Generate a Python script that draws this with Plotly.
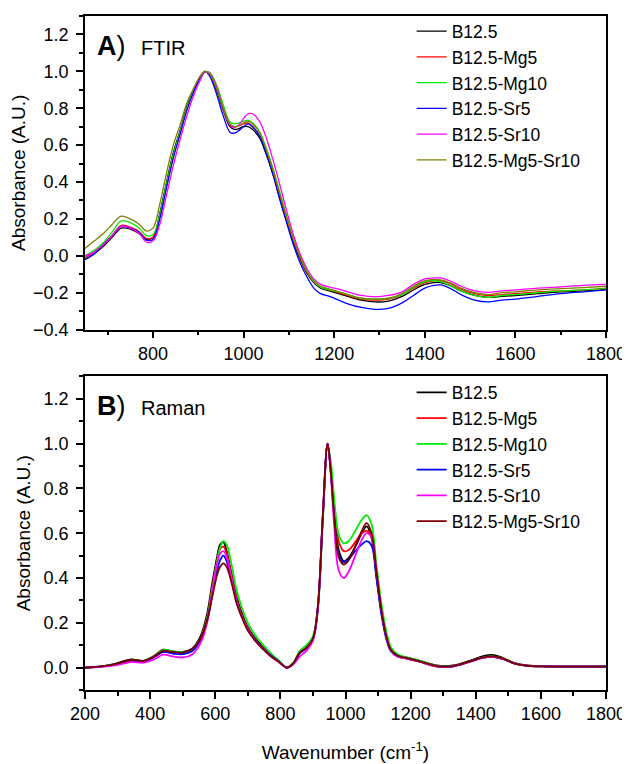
import plotly.graph_objects as go
from plotly.subplots import make_subplots

# ---- FTIR (panel A) ----
ftir_x = [650, 670, 690, 710, 730, 750, 770, 785, 800, 815,
          830, 845, 860, 875, 890, 905, 915, 925, 940, 955,
          970, 980, 990, 1000, 1010, 1020, 1035, 1050, 1065, 1080,
          1095, 1110, 1125, 1140, 1155, 1170, 1190, 1210, 1230, 1260,
          1290, 1320, 1350, 1375, 1400, 1420, 1435, 1455, 1480, 1510,
          1540, 1570, 1600, 1650, 1700, 1750, 1800]

ftir_b125 = [-0.02, 0.01, 0.05, 0.10, 0.15, 0.145, 0.12, 0.09, 0.10, 0.23,
             0.40, 0.56, 0.68, 0.81, 0.90, 0.975, 1.00, 0.98, 0.90, 0.79,
             0.70, 0.685, 0.69, 0.70, 0.70, 0.685, 0.64, 0.55, 0.44, 0.31,
             0.19, 0.075, -0.02, -0.095, -0.145, -0.175, -0.19, -0.205, -0.22, -0.24,
             -0.25, -0.245, -0.22, -0.185, -0.155, -0.145, -0.145, -0.16, -0.19, -0.215,
             -0.225, -0.22, -0.215, -0.205, -0.195, -0.19, -0.182]
ftir_mg5 = [-0.01, 0.02, 0.06, 0.11, 0.165, 0.155, 0.13, 0.095, 0.10, 0.21,
            0.38, 0.54, 0.67, 0.80, 0.895, 0.97, 1.00, 0.985, 0.91, 0.80,
            0.71, 0.70, 0.705, 0.715, 0.72, 0.70, 0.655, 0.565, 0.455, 0.325,
            0.20, 0.085, -0.01, -0.09, -0.14, -0.17, -0.185, -0.20, -0.215, -0.235,
            -0.24, -0.235, -0.21, -0.175, -0.145, -0.135, -0.135, -0.15, -0.18, -0.205,
            -0.215, -0.21, -0.205, -0.195, -0.19, -0.185, -0.175]
ftir_mg10 = [0.0, 0.03, 0.07, 0.13, 0.19, 0.18, 0.15, 0.11, 0.115, 0.22,
             0.39, 0.55, 0.67, 0.80, 0.895, 0.97, 0.995, 0.995, 0.93, 0.82,
             0.725, 0.715, 0.72, 0.73, 0.735, 0.72, 0.675, 0.585, 0.475, 0.345,
             0.215, 0.095, -0.005, -0.085, -0.14, -0.17, -0.185, -0.195, -0.21, -0.23,
             -0.235, -0.23, -0.21, -0.17, -0.14, -0.135, -0.14, -0.16, -0.19, -0.215,
             -0.225, -0.215, -0.21, -0.2, -0.19, -0.185, -0.178]
ftir_sr5 = [-0.02, 0.01, 0.06, 0.11, 0.16, 0.15, 0.125, 0.085, 0.09, 0.20,
            0.37, 0.53, 0.66, 0.79, 0.89, 0.97, 1.00, 0.975, 0.88, 0.76,
            0.67, 0.665, 0.68, 0.70, 0.715, 0.70, 0.65, 0.555, 0.44, 0.305,
            0.18, 0.06, -0.04, -0.115, -0.175, -0.205, -0.22, -0.24, -0.26, -0.28,
            -0.29, -0.285, -0.255, -0.215, -0.175, -0.16, -0.158, -0.175, -0.21, -0.24,
            -0.25, -0.24, -0.235, -0.22, -0.205, -0.195, -0.185]
ftir_sr10 = [0.0, 0.02, 0.06, 0.11, 0.16, 0.15, 0.12, 0.075, 0.08, 0.17,
             0.33, 0.49, 0.63, 0.76, 0.87, 0.955, 0.995, 0.99, 0.92, 0.80,
             0.71, 0.695, 0.71, 0.745, 0.77, 0.77, 0.73, 0.64, 0.52, 0.385,
             0.245, 0.115, 0.01, -0.07, -0.125, -0.155, -0.17, -0.18, -0.195, -0.215,
             -0.222, -0.215, -0.195, -0.155, -0.125, -0.12, -0.12, -0.135, -0.165, -0.19,
             -0.198, -0.19, -0.185, -0.175, -0.168, -0.16, -0.155]
ftir_mg5sr10 = [0.04, 0.08, 0.12, 0.17, 0.215, 0.20, 0.17, 0.135, 0.15, 0.28,
                0.45, 0.60, 0.71, 0.83, 0.91, 0.975, 1.00, 0.985, 0.91, 0.80,
                0.715, 0.70, 0.705, 0.72, 0.73, 0.715, 0.67, 0.575, 0.465, 0.335,
                0.21, 0.09, -0.005, -0.085, -0.135, -0.165, -0.18, -0.195, -0.21, -0.23,
                -0.235, -0.23, -0.205, -0.165, -0.135, -0.128, -0.13, -0.145, -0.175, -0.2,
                -0.21, -0.2, -0.195, -0.185, -0.178, -0.172, -0.165]

# ---- Raman (panel B) ----
raman_x = [200, 250, 300, 340, 380, 410, 440, 470, 500, 530,
           555, 575, 590, 605, 615, 625, 635, 650, 665, 680,
           700, 720, 745, 770, 795, 820, 840, 860, 880, 900,
           915, 930, 945, 955, 965, 980, 995, 1010, 1030, 1050,
           1065, 1080, 1095, 1110, 1125, 1140, 1160, 1190, 1230, 1280,
           1330, 1380, 1420, 1450, 1480, 1520, 1560, 1620, 1700, 1800]

raman_b125 = [0.0, 0.005, 0.02, 0.037, 0.03, 0.05, 0.08, 0.072, 0.07, 0.085,
              0.14, 0.24, 0.37, 0.49, 0.55, 0.56, 0.52, 0.42, 0.32, 0.25,
              0.18, 0.135, 0.095, 0.06, 0.03, 0.0, 0.02, 0.07, 0.09, 0.13,
              0.27, 0.67, 1.00, 0.88, 0.70, 0.52, 0.475, 0.49, 0.54, 0.60,
              0.63, 0.58, 0.41, 0.25, 0.14, 0.08, 0.056, 0.045, 0.03, 0.01,
              0.01, 0.03, 0.05, 0.057, 0.045, 0.02, 0.01, 0.006, 0.005, 0.005]
raman_mg5 = [0.0, 0.004, 0.015, 0.03, 0.028, 0.045, 0.07, 0.065, 0.062, 0.078,
             0.13, 0.225, 0.35, 0.47, 0.53, 0.54, 0.51, 0.41, 0.31, 0.24,
             0.175, 0.13, 0.09, 0.055, 0.028, 0.0, 0.02, 0.068, 0.088, 0.13,
             0.27, 0.66, 0.995, 0.89, 0.72, 0.56, 0.52, 0.525, 0.56, 0.60,
             0.61, 0.585, 0.42, 0.255, 0.14, 0.075, 0.05, 0.04, 0.025, 0.006,
             0.006, 0.025, 0.043, 0.048, 0.04, 0.018, 0.008, 0.005, 0.004, 0.004]
raman_mg10 = [0.0, 0.004, 0.016, 0.032, 0.03, 0.05, 0.078, 0.072, 0.07, 0.082,
              0.13, 0.22, 0.34, 0.47, 0.535, 0.565, 0.55, 0.46, 0.35, 0.275,
              0.20, 0.15, 0.105, 0.065, 0.032, 0.0, 0.022, 0.075, 0.10, 0.14,
              0.26, 0.64, 0.99, 0.92, 0.76, 0.59, 0.555, 0.565, 0.61, 0.66,
              0.68, 0.64, 0.46, 0.29, 0.165, 0.09, 0.06, 0.045, 0.03, 0.008,
              0.008, 0.027, 0.045, 0.05, 0.042, 0.018, 0.008, 0.005, 0.004, 0.004]
raman_sr5 = [0.0, 0.004, 0.015, 0.03, 0.027, 0.045, 0.07, 0.063, 0.06, 0.075,
             0.125, 0.21, 0.32, 0.43, 0.48, 0.50, 0.475, 0.39, 0.30, 0.235,
             0.17, 0.128, 0.088, 0.055, 0.027, 0.0, 0.018, 0.065, 0.085, 0.125,
             0.265, 0.66, 1.00, 0.87, 0.68, 0.50, 0.47, 0.485, 0.52, 0.55,
             0.565, 0.545, 0.40, 0.24, 0.13, 0.072, 0.05, 0.04, 0.025, 0.006,
             0.006, 0.025, 0.043, 0.048, 0.04, 0.018, 0.008, 0.005, 0.004, 0.004]
raman_sr10 = [0.0, 0.003, 0.012, 0.025, 0.022, 0.035, 0.058, 0.05, 0.045, 0.06,
              0.11, 0.2, 0.33, 0.46, 0.51, 0.52, 0.495, 0.40, 0.30, 0.235,
              0.17, 0.125, 0.085, 0.05, 0.025, 0.0, 0.015, 0.05, 0.075, 0.12,
              0.26, 0.66, 1.00, 0.86, 0.64, 0.43, 0.40, 0.43, 0.50, 0.57,
              0.60, 0.58, 0.43, 0.26, 0.14, 0.075, 0.05, 0.04, 0.025, 0.006,
              0.006, 0.025, 0.043, 0.048, 0.04, 0.018, 0.008, 0.005, 0.004, 0.004]
raman_mg5sr10 = [0.0, 0.005, 0.018, 0.034, 0.03, 0.048, 0.075, 0.07, 0.068, 0.085,
                 0.13, 0.21, 0.31, 0.41, 0.45, 0.465, 0.45, 0.38, 0.29, 0.23,
                 0.165, 0.125, 0.085, 0.052, 0.026, 0.0, 0.02, 0.068, 0.088, 0.13,
                 0.27, 0.67, 1.00, 0.87, 0.68, 0.49, 0.46, 0.48, 0.54, 0.61,
                 0.645, 0.60, 0.43, 0.26, 0.14, 0.078, 0.053, 0.042, 0.027, 0.007,
                 0.007, 0.027, 0.045, 0.05, 0.042, 0.018, 0.008, 0.005, 0.004, 0.004]

names = ['B12.5', 'B12.5-Mg5', 'B12.5-Mg10', 'B12.5-Sr5', 'B12.5-Sr10', 'B12.5-Mg5-Sr10']
ftir_colors = ['#000000', '#ff0000', '#00ee00', '#0000ff', '#ff00ff', '#808000']
raman_colors = ['#000000', '#ff0000', '#00ee00', '#0000ff', '#ff00ff', '#7a0000']
ftir_series = [ftir_b125, ftir_mg5, ftir_mg10, ftir_sr5, ftir_sr10, ftir_mg5sr10]
raman_series = [raman_b125, raman_mg5, raman_mg10, raman_sr5, raman_sr10, raman_mg5sr10]

fig = make_subplots(rows=2, cols=1)

# FTIR traces
for name, color, ys in zip(names, ftir_colors, ftir_series):
    fig.add_trace(go.Scatter(x=ftir_x, y=ys, name=name, mode='lines',
                             line=dict(color=color, width=1.3, shape='spline'),
                             legend='legend'), row=1, col=1)

# Raman traces
for name, color, ys in zip(names, raman_colors, raman_series):
    fig.add_trace(go.Scatter(x=raman_x, y=ys, name=name, mode='lines',
                             line=dict(color=color, width=1.8, shape='spline'),
                             legend='legend2'), row=2, col=1)

axis_style = dict(
    showline=True, linecolor='black', linewidth=1.5, mirror=True,
    ticks='outside', ticklen=7, tickwidth=1.5, tickcolor='black',
    showgrid=False, zeroline=False, automargin=False,
    tickfont=dict(family='Liberation Sans, Arial', size=18, color='black'),
)

fig.update_xaxes(**axis_style)
fig.update_yaxes(**axis_style)

minor_style = dict(ticklen=4, tickwidth=1.5, tickcolor='black', ticks='outside')

# the page body adds an 8px offset, so the figure is 8px smaller than the window
fig.update_layout(
    xaxis=dict(range=[650, 1800], dtick=200, tick0=0,
               minor=dict(dtick=100, **minor_style), domain=[0, 1]),
    yaxis=dict(range=[-0.4, 1.3], dtick=0.2, tick0=0, tickformat='.1f',
               minor=dict(dtick=0.1, **minor_style),
               domain=[0.5347, 1.0], ticklabelstandoff=4,
               title=dict(text='Absorbance (A.U.)', font=dict(size=19, color='black'),
                          standoff=8)),
    xaxis2=dict(range=[200, 1800], dtick=200, tick0=0,
                minor=dict(dtick=100, **minor_style), domain=[0, 1],
                title=dict(text='Wavenumber (cm<sup>-1</sup>)', font=dict(size=19, color='black'),
                           standoff=22)),
    yaxis2=dict(range=[-0.1, 1.3], dtick=0.2, tick0=0, tickformat='.1f',
                minor=dict(dtick=0.1, **minor_style),
                domain=[0.0, 0.4653], ticklabelstandoff=4,
                title=dict(text='Absorbance (A.U.)', font=dict(size=19, color='black'),
                           standoff=8)),
    legend=dict(x=0.627, y=1.004, xanchor='left', yanchor='top', bgcolor='rgba(0,0,0,0)',
                font=dict(size=17.5, color='black')),
    legend2=dict(x=0.627, y=0.468, xanchor='left', yanchor='top', bgcolor='rgba(0,0,0,0)',
                 font=dict(size=17.5, color='black')),
    font=dict(family='Liberation Sans, Arial', color='black'),
    width=622,
    height=756,
    margin=dict(l=77, r=24, t=5, b=74),
    plot_bgcolor='white',
    paper_bgcolor='white',
)

# Panel labels
fig.add_annotation(text='<b>A</b>)', xref='paper', yref='paper', x=0.02, y=0.956,
                   xanchor='left', yanchor='middle', showarrow=False,
                   font=dict(size=27, color='black'))
fig.add_annotation(text='FTIR', xref='paper', yref='paper', x=0.103, y=0.953,
                   xanchor='left', yanchor='middle', showarrow=False,
                   font=dict(size=20, color='black'))
fig.add_annotation(text='<b>B</b>)', xref='paper', yref='paper', x=0.02, y=0.421,
                   xanchor='left', yanchor='middle', showarrow=False,
                   font=dict(size=27, color='black'))
fig.add_annotation(text='Raman', xref='paper', yref='paper', x=0.103, y=0.418,
                   xanchor='left', yanchor='middle', showarrow=False,
                   font=dict(size=20, color='black'))

fig.write_html("out.html")
